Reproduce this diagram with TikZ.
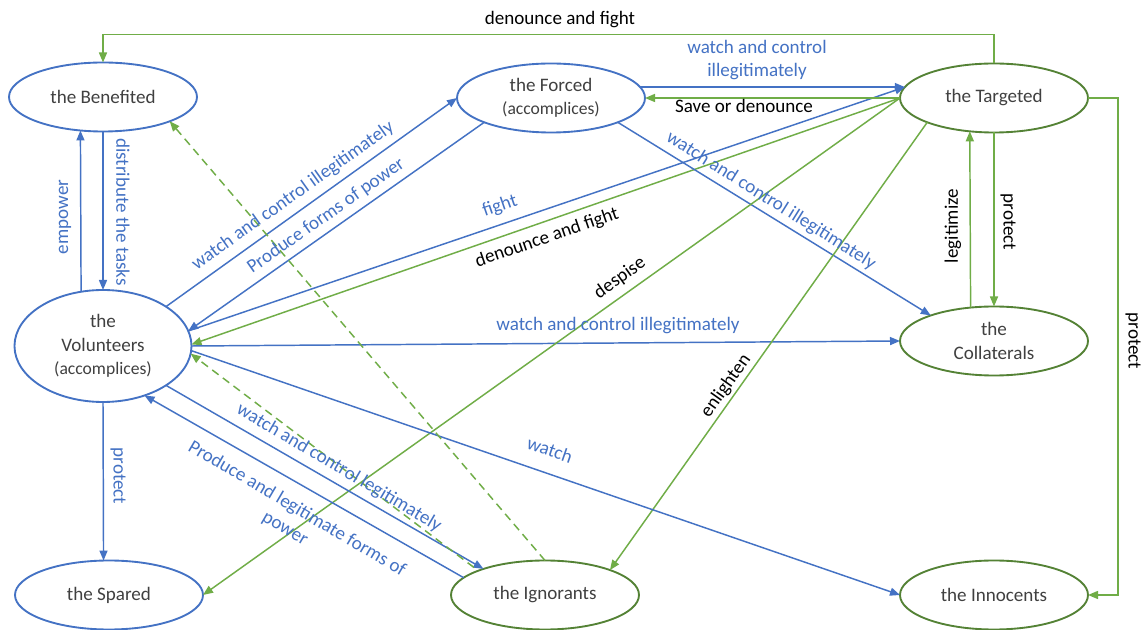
\documentclass[tikz,border=0pt]{standalone}
\usepackage{fontspec}
\setmainfont{Carlito}
\usetikzlibrary{shapes.geometric,arrows.meta}
\definecolor{nblue}{HTML}{4472C4}
\definecolor{eblue}{HTML}{4472C4}
\definecolor{ngreen}{HTML}{548235}
\definecolor{egreen}{HTML}{70AD47}
\definecolor{tgray}{HTML}{404040}
\newcommand{\myNodeFont}{\fontsize{14.3}{17.5}\selectfont}
\newcommand{\mySmallFont}{\fontsize{13.2}{17.5}\selectfont}
\tikzset{
  ent/.style={ellipse, draw, line width=1.4pt, minimum width=141pt, minimum height=51.75pt,
    inner sep=0pt, outer sep=0pt, align=center, text=tgray, font=\myNodeFont},
  bent/.style={ent, draw=nblue},
  gent/.style={ent, draw=ngreen},
  tip/.style={-{Triangle[length=7.5pt,width=6pt]}},
  be/.style={draw=eblue, line width=1.1pt, tip},
  ge/.style={draw=egreen, line width=1.1pt, tip},
  gd/.style={ge, dash pattern=on 6pt off 4pt},
  blab/.style={font=\myNodeFont, text=eblue, inner sep=0pt, align=center},
  klab/.style={font=\myNodeFont, text=black, inner sep=0pt, align=center}
}
\begin{document}
\begin{tikzpicture}[x=0.75pt, y=-0.75pt]
\useasboundingbox (0,0) rectangle (1143,630);
\fill[white] (0,0) rectangle (1143,630);

% nodes
\node[bent] (Benefited) at (103,97) {the Benefited};
\node[bent] (Forced) at (551,98) {the Forced\\{\mySmallFont (accomplices)}};
\node[gent] (Targeted) at (994,98) {the Targeted};
\node[bent, minimum width=132.75pt, minimum height=84pt] (Volunteers) at (103,346)
  {the\\Volunteers\\{\mySmallFont (accomplices)}};
\node[gent] (Collaterals) at (994,341) {the\\Collaterals};
\node[bent] (Spared) at (109,595) {the Spared};
\node[gent] (Ignorants) at (545,595) {the Ignorants};
\node[gent] (Innocents) at (994,595) {the Innocents};

% connectors
\draw[ge] (Targeted.north) -- ++(0,-29) -| (Benefited.north);
\draw[ge] (Targeted.east) -- ++(30,0) |- (Innocents.east);
\draw[be] (Volunteers.112.1) -- (Benefited.236.7);
\draw[be] (Benefited.south) -- (Volunteers.north);
\draw[be] (Volunteers.south) -- (Spared.99.9);
\draw[ge] (Collaterals.125.7) -- (Targeted.234.3);
\draw[ge] (Targeted.south) -- (Collaterals.north);
\draw[be] (Volunteers.32.6) -- (Forced.west);
\draw[be] (Forced.200.2) -- (Volunteers.10.7);
\draw[be] (Volunteers.10.7) -- (Targeted.173);
\draw[be] (Forced.7) -- (Targeted.173);
\draw[ge] (Targeted.west) -- (Forced.east);
\draw[ge] (Targeted.west) -- (Volunteers.1);
\draw[be] (Volunteers.east) -- (Collaterals.west);
\draw[be] (Forced.340.1) -- (Collaterals.158.8);
\draw[ge] (Targeted.west) -- (Spared.east);
\draw[ge] (Targeted.200.75) -- (Ignorants.21.7);
\draw[be] (Volunteers.328.6) -- (Ignorants.157.6);
\draw[be] (Ignorants.168.9) -- (Volunteers.310.8);
\draw[be] (Volunteers.357) -- (Innocents.west);
\draw[gd] (Ignorants.north) -- (Benefited.340);
\draw[gd, shorten <=4pt] (Ignorants.160) -- (Volunteers.355);

% labels
\node[klab] (lTopDF) at (560,20) {denounce and fight};
\node[blab] (lWCI2) at (757,60) {watch and control\\illegitimately};
\node[klab] (lSave) at (744,106) {Save or denounce};
\node[blab, rotate=90] (lEmpower) at (65,217) {empower};
\node[blab, rotate=-90] (lDistr) at (123,212) {distribute the tasks};
\node[blab, rotate=35.4] (lWCI1) at (293,196) {watch and control illegitimately};
\node[blab, rotate=35] (lPFP) at (326,216) {Produce forms of power};
\node[blab, rotate=19] (lFight) at (500,206) {fight};
\node[klab, rotate=19] (lDF2) at (547,238) {denounce and fight};
\node[klab, rotate=35.5] (lDespise) at (620,278) {despise};
\node[blab, rotate=-32] (lWCI3) at (771,201) {watch and control illegitimately};
\node[blab] (lWCI4) at (618,326) {watch and control illegitimately};
\node[klab, rotate=90] (lLegit) at (953,226) {legitimize};
\node[klab, rotate=-90] (lProtT) at (1008,222) {protect};
\node[klab, rotate=-90] (lProtR) at (1133,341) {protect};
\node[blab, rotate=-90] (lProtV) at (118,476) {protect};
\node[blab, rotate=-30.5] (lWCL) at (339,468) {watch and control legitimately};
\node[blab, rotate=-30.5] (lPLF) at (291,519) {Produce and legitimate forms of\\power};
\node[blab, rotate=-19] (lWatch) at (550,450) {watch};
\node[klab, rotate=54.7] (lEnl) at (726,386) {enlighten};
\end{tikzpicture}
\end{document}
